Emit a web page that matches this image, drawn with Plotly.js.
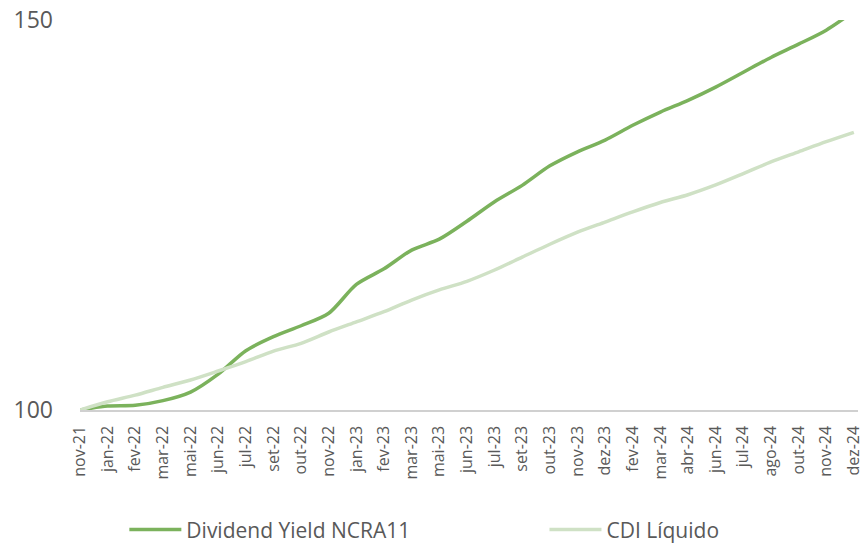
<!DOCTYPE html>
<html>
<head>
<meta charset="utf-8">
<script src="https://cdn.plot.ly/plotly-3.0.1.min.js"></script>
<style>html,body{margin:0;padding:0;background:#fff;}#chart{width:864px;height:547px;}</style>
</head>
<body>
<div id="chart"></div>
<script>
const months = ["nov-21","jan-22","fev-22","mar-22","mai-22","jun-22","jul-22","set-22","out-22","nov-22",
  "jan-23","fev-23","mar-23","mai-23","jun-23","jul-23","set-23","out-23","nov-23","dez-23",
  "fev-24","mar-24","abr-24","jun-24","jul-24","ago-24","out-24","nov-24","dez-24"];
const dividendYield = [100.0,100.5,100.6,101.2,102.3,104.6,107.6,109.4,110.8,112.4,
  116.1,118.1,120.5,121.9,124.2,126.7,128.8,131.3,133.1,134.6,
  136.5,138.2,139.7,141.4,143.3,145.2,146.9,148.7,151.1];
const cdiLiquido = [100.0,101.05,101.9,102.9,103.85,105.0,106.2,107.55,108.55,110.0,
  111.3,112.6,114.1,115.4,116.5,117.95,119.6,121.25,122.8,124.1,
  125.4,126.6,127.6,128.85,130.3,131.8,133.1,134.4,135.6];

const FONT = "Open Sans, Lato, sans-serif";
const GREY = "#595959";

const traces = [
  {x: months, y: dividendYield, type: "scatter", mode: "lines", name: "Dividend Yield NCRA11",
   legend: "legend",
   line: {color: "#7bb25c", width: 3.5, shape: "spline", smoothing: 0.8}},
  {x: months, y: cdiLiquido, type: "scatter", mode: "lines", name: "CDI Líquido",
   legend: "legend2",
   line: {color: "#cfe1c5", width: 3.5, shape: "spline", smoothing: 0.8}}
];

const legendBase = {orientation: "h", xanchor: "left", y: -0.307, yanchor: "middle",
  font: {family: FONT, size: 21, color: GREY}, itemwidth: 52, bgcolor: "rgba(0,0,0,0)"};

const layout = {
  width: 864, height: 547,
  margin: {l: 80, r: 6, t: 20, b: 137, autoexpand: false},
  paper_bgcolor: "#fff", plot_bgcolor: "#fff",
  font: {family: FONT, color: GREY},
  showlegend: true,
  legend: Object.assign({}, legendBase, {x: 0.057}),
  legend2: Object.assign({}, legendBase, {x: 0.597}),
  xaxis: {type: "category", range: [0, 28.15], showgrid: false, zeroline: false, automargin: false,
    showline: true, linecolor: "#d0d0d0", linewidth: 1.5, ticks: "",
    tickangle: -90, tickfont: {family: FONT, size: 16, color: GREY},
    ticklabelstandoff: 8, fixedrange: true},
  yaxis: {range: [100, 150], tickvals: [100, 150], ticktext: ["100", "150"], automargin: false,
    showgrid: false, zeroline: false, showline: false, ticks: "",
    tickfont: {family: FONT, size: 23, color: GREY}, ticklabelstandoff: 26, fixedrange: true}
};

Plotly.newPlot("chart", traces, layout, {displayModeBar: false, staticPlot: true});
</script>
</body>
</html>
